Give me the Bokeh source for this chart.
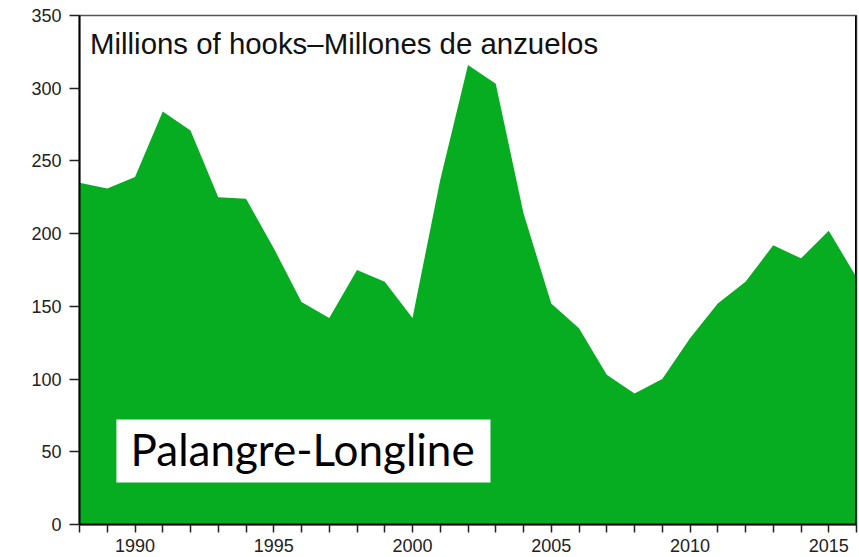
from bokeh.plotting import figure
from bokeh.models import (FixedTicker, Label, BoxAnnotation, Range1d, Span)
from bokeh.embed import file_html
from bokeh.resources import INLINE

years = list(range(1988, 2017))
hooks = [235, 231, 239, 284, 271, 225, 224, 190, 153, 142, 175, 167, 142,
         237, 316, 303, 214, 152, 135, 103, 90, 100, 128, 152, 167, 192, 183, 202, 170]
y_ticks = [0, 50, 100, 150, 200, 250, 300, 350]
x_label_years = [1990, 1995, 2000, 2005, 2010, 2015]
title_text = "Millions of hooks\u2013Millones de anzuelos"
gear_text = "Palangre-Longline"

GREEN = "#06ad21"

p = figure(width=859, height=557, output_backend="svg", toolbar_location=None,
           x_range=Range1d(years[0], years[-1]), y_range=Range1d(0, 350),
           min_border_left=79, min_border_right=3, min_border_top=15, min_border_bottom=33)

p.varea(x=years, y1=[0] * len(years), y2=hooks, fill_color=GREEN, fill_alpha=1)

p.grid.visible = False
p.background_fill_color = "white"
p.border_fill_color = "white"
p.outline_line_color = "#555555"
p.outline_line_width = 1.5

# x axis
xa = p.xaxis[0]
xa.ticker = FixedTicker(ticks=years)
xa.major_label_overrides = {y: (str(y) if y in x_label_years else "") for y in years}
xa.minor_tick_line_color = None
xa.major_tick_out = 8
xa.major_tick_in = 0
xa.major_tick_line_width = 1.5
xa.axis_line_width = 2
xa.axis_line_color = "black"
xa.major_tick_line_color = "#222222"
xa.major_label_standoff = 6
xa.major_label_text_font = "Liberation Sans"
xa.major_label_text_font_size = "18px"
xa.major_label_text_color = "#222222"

# y axis
ya = p.yaxis[0]
ya.ticker = FixedTicker(ticks=y_ticks)
ya.minor_tick_line_color = None
ya.major_tick_out = 10
ya.major_tick_in = 0
ya.major_tick_line_width = 1.5
ya.axis_line_width = 2
ya.axis_line_color = "black"
ya.major_tick_line_color = "#222222"
ya.major_label_standoff = 8
ya.major_label_text_font = "Liberation Sans"
ya.major_label_text_font_size = "18px"
ya.major_label_text_color = "#222222"

# thick right frame edge
p.add_layout(Span(location=years[-1], dimension="height", line_width=3, line_color="black"))

p.add_layout(Label(x=1988.38, y=331.0, text=title_text, text_font="Liberation Sans",
                   text_font_size="29.4px", text_color="#111111", text_baseline="alphabetic"))

p.add_layout(BoxAnnotation(left=1989.33, right=2002.81, bottom=28.9, top=72.2,
                           fill_color="white", fill_alpha=1, line_color=None))
p.add_layout(Label(x=1989.84, y=52.0, text=gear_text, text_font="Lato",
                   text_font_size="44px", text_color="black", text_baseline="alphabetic"))

open("out.html", "w").write(file_html(p, INLINE))
